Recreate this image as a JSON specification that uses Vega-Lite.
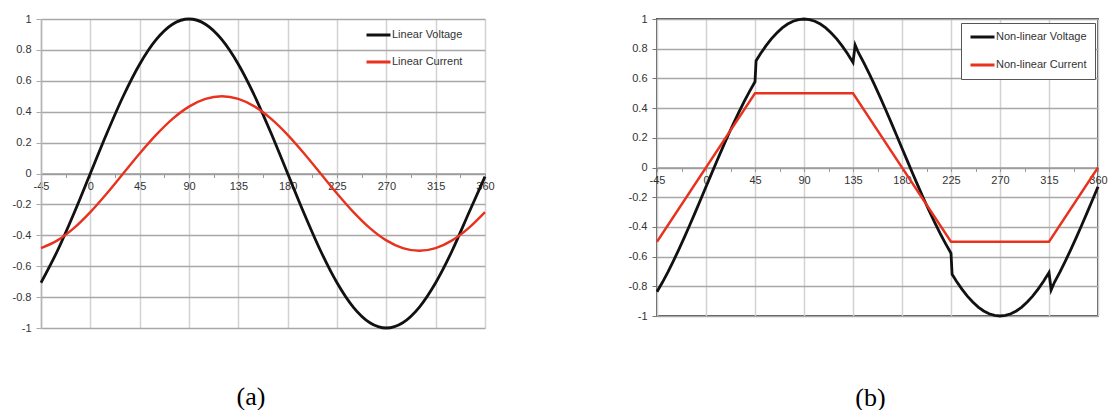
{
  "$schema": "https://vega.github.io/schema/vega-lite/v6.json",
  "background": "white",
  "padding": {"left": 12, "top": 12, "right": 0, "bottom": 0},
  "config": {
    "font": "Liberation Sans",
    "axis": {"labelFont": "Liberation Sans", "labelFontSize": 11, "labelColor": "#333333"},
    "legend": {"labelFont": "Liberation Sans", "labelFontSize": 11, "labelColor": "#333333"}
  },
  "datasets": {
    "linear": [
      {"angle": -45, "value": -0.7071, "series": "Linear Voltage"},
      {"angle": -30, "value": -0.5, "series": "Linear Voltage"},
      {"angle": -15, "value": -0.2588, "series": "Linear Voltage"},
      {"angle": 0, "value": 0, "series": "Linear Voltage"},
      {"angle": 15, "value": 0.2588, "series": "Linear Voltage"},
      {"angle": 30, "value": 0.5, "series": "Linear Voltage"},
      {"angle": 45, "value": 0.7071, "series": "Linear Voltage"},
      {"angle": 60, "value": 0.866, "series": "Linear Voltage"},
      {"angle": 75, "value": 0.9659, "series": "Linear Voltage"},
      {"angle": 90, "value": 1, "series": "Linear Voltage"},
      {"angle": 105, "value": 0.9659, "series": "Linear Voltage"},
      {"angle": 120, "value": 0.866, "series": "Linear Voltage"},
      {"angle": 135, "value": 0.7071, "series": "Linear Voltage"},
      {"angle": 150, "value": 0.5, "series": "Linear Voltage"},
      {"angle": 165, "value": 0.2588, "series": "Linear Voltage"},
      {"angle": 180, "value": 0, "series": "Linear Voltage"},
      {"angle": 195, "value": -0.2588, "series": "Linear Voltage"},
      {"angle": 210, "value": -0.5, "series": "Linear Voltage"},
      {"angle": 225, "value": -0.7071, "series": "Linear Voltage"},
      {"angle": 240, "value": -0.866, "series": "Linear Voltage"},
      {"angle": 255, "value": -0.9659, "series": "Linear Voltage"},
      {"angle": 270, "value": -1, "series": "Linear Voltage"},
      {"angle": 285, "value": -0.9659, "series": "Linear Voltage"},
      {"angle": 300, "value": -0.866, "series": "Linear Voltage"},
      {"angle": 315, "value": -0.7071, "series": "Linear Voltage"},
      {"angle": 330, "value": -0.5, "series": "Linear Voltage"},
      {"angle": 345, "value": -0.2588, "series": "Linear Voltage"},
      {"angle": 360, "value": -0.02, "series": "Linear Voltage"},
      {"angle": -45, "value": -0.483, "series": "Linear Current"},
      {"angle": -30, "value": -0.433, "series": "Linear Current"},
      {"angle": -15, "value": -0.3536, "series": "Linear Current"},
      {"angle": 0, "value": -0.25, "series": "Linear Current"},
      {"angle": 15, "value": -0.1294, "series": "Linear Current"},
      {"angle": 30, "value": 0, "series": "Linear Current"},
      {"angle": 45, "value": 0.1294, "series": "Linear Current"},
      {"angle": 60, "value": 0.25, "series": "Linear Current"},
      {"angle": 75, "value": 0.3536, "series": "Linear Current"},
      {"angle": 90, "value": 0.433, "series": "Linear Current"},
      {"angle": 105, "value": 0.483, "series": "Linear Current"},
      {"angle": 120, "value": 0.5, "series": "Linear Current"},
      {"angle": 135, "value": 0.483, "series": "Linear Current"},
      {"angle": 150, "value": 0.433, "series": "Linear Current"},
      {"angle": 165, "value": 0.3536, "series": "Linear Current"},
      {"angle": 180, "value": 0.25, "series": "Linear Current"},
      {"angle": 195, "value": 0.1294, "series": "Linear Current"},
      {"angle": 210, "value": 0, "series": "Linear Current"},
      {"angle": 225, "value": -0.1294, "series": "Linear Current"},
      {"angle": 240, "value": -0.25, "series": "Linear Current"},
      {"angle": 255, "value": -0.3536, "series": "Linear Current"},
      {"angle": 270, "value": -0.433, "series": "Linear Current"},
      {"angle": 285, "value": -0.483, "series": "Linear Current"},
      {"angle": 300, "value": -0.5, "series": "Linear Current"},
      {"angle": 315, "value": -0.483, "series": "Linear Current"},
      {"angle": 330, "value": -0.433, "series": "Linear Current"},
      {"angle": 345, "value": -0.3536, "series": "Linear Current"},
      {"angle": 360, "value": -0.25, "series": "Linear Current"}
    ],
    "nonlinear": [
      {"angle": -45, "value": -0.837, "series": "Non-linear Voltage"},
      {"angle": -40, "value": -0.773, "series": "Non-linear Voltage"},
      {"angle": -35, "value": -0.704, "series": "Non-linear Voltage"},
      {"angle": -30, "value": -0.63, "series": "Non-linear Voltage"},
      {"angle": -25, "value": -0.553, "series": "Non-linear Voltage"},
      {"angle": -20, "value": -0.472, "series": "Non-linear Voltage"},
      {"angle": -15, "value": -0.389, "series": "Non-linear Voltage"},
      {"angle": -10, "value": -0.304, "series": "Non-linear Voltage"},
      {"angle": -5, "value": -0.217, "series": "Non-linear Voltage"},
      {"angle": 0, "value": -0.13, "series": "Non-linear Voltage"},
      {"angle": 5, "value": -0.043, "series": "Non-linear Voltage"},
      {"angle": 10, "value": 0.044, "series": "Non-linear Voltage"},
      {"angle": 15, "value": 0.129, "series": "Non-linear Voltage"},
      {"angle": 20, "value": 0.212, "series": "Non-linear Voltage"},
      {"angle": 25, "value": 0.293, "series": "Non-linear Voltage"},
      {"angle": 30, "value": 0.37, "series": "Non-linear Voltage"},
      {"angle": 35, "value": 0.444, "series": "Non-linear Voltage"},
      {"angle": 40, "value": 0.513, "series": "Non-linear Voltage"},
      {"angle": 45, "value": 0.577, "series": "Non-linear Voltage"},
      {"angle": 46, "value": 0.719, "series": "Non-linear Voltage"},
      {"angle": 50, "value": 0.766, "series": "Non-linear Voltage"},
      {"angle": 55, "value": 0.819, "series": "Non-linear Voltage"},
      {"angle": 60, "value": 0.866, "series": "Non-linear Voltage"},
      {"angle": 65, "value": 0.906, "series": "Non-linear Voltage"},
      {"angle": 70, "value": 0.94, "series": "Non-linear Voltage"},
      {"angle": 75, "value": 0.966, "series": "Non-linear Voltage"},
      {"angle": 80, "value": 0.985, "series": "Non-linear Voltage"},
      {"angle": 85, "value": 0.996, "series": "Non-linear Voltage"},
      {"angle": 90, "value": 1, "series": "Non-linear Voltage"},
      {"angle": 95, "value": 0.996, "series": "Non-linear Voltage"},
      {"angle": 100, "value": 0.985, "series": "Non-linear Voltage"},
      {"angle": 105, "value": 0.966, "series": "Non-linear Voltage"},
      {"angle": 110, "value": 0.94, "series": "Non-linear Voltage"},
      {"angle": 115, "value": 0.906, "series": "Non-linear Voltage"},
      {"angle": 120, "value": 0.866, "series": "Non-linear Voltage"},
      {"angle": 125, "value": 0.819, "series": "Non-linear Voltage"},
      {"angle": 130, "value": 0.766, "series": "Non-linear Voltage"},
      {"angle": 135, "value": 0.707, "series": "Non-linear Voltage"},
      {"angle": 137, "value": 0.825, "series": "Non-linear Voltage"},
      {"angle": 140, "value": 0.773, "series": "Non-linear Voltage"},
      {"angle": 145, "value": 0.704, "series": "Non-linear Voltage"},
      {"angle": 150, "value": 0.63, "series": "Non-linear Voltage"},
      {"angle": 155, "value": 0.553, "series": "Non-linear Voltage"},
      {"angle": 160, "value": 0.472, "series": "Non-linear Voltage"},
      {"angle": 165, "value": 0.389, "series": "Non-linear Voltage"},
      {"angle": 170, "value": 0.304, "series": "Non-linear Voltage"},
      {"angle": 175, "value": 0.217, "series": "Non-linear Voltage"},
      {"angle": 180, "value": 0.13, "series": "Non-linear Voltage"},
      {"angle": 185, "value": 0.043, "series": "Non-linear Voltage"},
      {"angle": 190, "value": -0.044, "series": "Non-linear Voltage"},
      {"angle": 195, "value": -0.129, "series": "Non-linear Voltage"},
      {"angle": 200, "value": -0.212, "series": "Non-linear Voltage"},
      {"angle": 205, "value": -0.293, "series": "Non-linear Voltage"},
      {"angle": 210, "value": -0.37, "series": "Non-linear Voltage"},
      {"angle": 215, "value": -0.444, "series": "Non-linear Voltage"},
      {"angle": 220, "value": -0.513, "series": "Non-linear Voltage"},
      {"angle": 225, "value": -0.577, "series": "Non-linear Voltage"},
      {"angle": 226, "value": -0.719, "series": "Non-linear Voltage"},
      {"angle": 230, "value": -0.766, "series": "Non-linear Voltage"},
      {"angle": 235, "value": -0.819, "series": "Non-linear Voltage"},
      {"angle": 240, "value": -0.866, "series": "Non-linear Voltage"},
      {"angle": 245, "value": -0.906, "series": "Non-linear Voltage"},
      {"angle": 250, "value": -0.94, "series": "Non-linear Voltage"},
      {"angle": 255, "value": -0.966, "series": "Non-linear Voltage"},
      {"angle": 260, "value": -0.985, "series": "Non-linear Voltage"},
      {"angle": 265, "value": -0.996, "series": "Non-linear Voltage"},
      {"angle": 270, "value": -1, "series": "Non-linear Voltage"},
      {"angle": 275, "value": -0.996, "series": "Non-linear Voltage"},
      {"angle": 280, "value": -0.985, "series": "Non-linear Voltage"},
      {"angle": 285, "value": -0.966, "series": "Non-linear Voltage"},
      {"angle": 290, "value": -0.94, "series": "Non-linear Voltage"},
      {"angle": 295, "value": -0.906, "series": "Non-linear Voltage"},
      {"angle": 300, "value": -0.866, "series": "Non-linear Voltage"},
      {"angle": 305, "value": -0.819, "series": "Non-linear Voltage"},
      {"angle": 310, "value": -0.766, "series": "Non-linear Voltage"},
      {"angle": 315, "value": -0.707, "series": "Non-linear Voltage"},
      {"angle": 317, "value": -0.825, "series": "Non-linear Voltage"},
      {"angle": 320, "value": -0.773, "series": "Non-linear Voltage"},
      {"angle": 325, "value": -0.704, "series": "Non-linear Voltage"},
      {"angle": 330, "value": -0.63, "series": "Non-linear Voltage"},
      {"angle": 335, "value": -0.553, "series": "Non-linear Voltage"},
      {"angle": 340, "value": -0.472, "series": "Non-linear Voltage"},
      {"angle": 345, "value": -0.389, "series": "Non-linear Voltage"},
      {"angle": 350, "value": -0.304, "series": "Non-linear Voltage"},
      {"angle": 355, "value": -0.217, "series": "Non-linear Voltage"},
      {"angle": 360, "value": -0.13, "series": "Non-linear Voltage"},
      {"angle": -45, "value": -0.5, "series": "Non-linear Current"},
      {"angle": 45, "value": 0.5, "series": "Non-linear Current"},
      {"angle": 135, "value": 0.5, "series": "Non-linear Current"},
      {"angle": 225, "value": -0.5, "series": "Non-linear Current"},
      {"angle": 315, "value": -0.5, "series": "Non-linear Current"},
      {"angle": 360, "value": 0, "series": "Non-linear Current"}
    ]
  },
  "hconcat": [
    {
      "width": 444,
      "height": 309,
      "view": {"stroke": null},
      "data": {"name": "linear"},
      "title": {"text": "(a)", "orient": "bottom", "anchor": "middle", "frame": "group", "font": "Liberation Serif", "fontSize": 26, "fontWeight": "normal", "color": "#000000", "offset": 50, "dx": -12},
      "layer": [
        {
          "transform": [{"filter": "datum.series === 'Linear Voltage'"}],
          "mark": {"type": "line", "interpolate": "monotone", "strokeWidth": 2.8},
          "encoding": {
            "x": {"field": "angle", "type": "quantitative", "scale": {"domain": [-45, 360], "nice": false, "zero": false},
              "axis": {"orient": "top", "values": [-45, 0, 45, 90, 135, 180, 225, 270, 315, 360], "grid": true, "gridColor": "#d2d2d2", "gridWidth": 1.5, "labels": false, "ticks": false, "domain": false, "title": null}},
            "y": {"field": "value", "type": "quantitative", "scale": {"domain": [-1, 1], "nice": false},
              "axis": {"orient": "left", "values": [-1, -0.8, -0.6, -0.4, -0.2, 0, 0.2, 0.4, 0.6, 0.8, 1], "grid": true, "gridColor": "#a8a8a8", "gridWidth": 1.6, "domain": true, "domainColor": "#b4b4b4", "domainWidth": 1.5, "ticks": true, "tickColor": "#a8a8a8", "tickSize": 5, "labelPadding": 5, "labelExpr": "toString(datum.value)", "title": null}},
            "color": {"field": "series", "type": "nominal", "scale": {"domain": ["Linear Voltage", "Linear Current"], "range": ["#111111", "#e8321e"]},
              "legend": {"title": null, "orient": "none", "legendX": 324, "legendY": 10, "symbolType": "stroke", "symbolSize": 576, "symbolStrokeWidth": 3, "clipHeight": 12, "labelOffset": 0, "rowPadding": 15, "padding": 0}}
          }
        },
        {
          "transform": [{"filter": "datum.series === 'Linear Current'"}],
          "mark": {"type": "line", "interpolate": "monotone", "strokeWidth": 2.4},
          "encoding": {
            "x": {"field": "angle", "type": "quantitative", "scale": {"domain": [-45, 360], "nice": false, "zero": false}, "axis": null},
            "y": {"field": "value", "type": "quantitative", "scale": {"domain": [-1, 1], "nice": false},
              "axis": {"orient": "left", "values": [-1, -0.8, -0.6, -0.4, -0.2, 0, 0.2, 0.4, 0.6, 0.8, 1], "grid": true, "gridColor": "#a8a8a8", "gridWidth": 1.6, "domain": true, "domainColor": "#b4b4b4", "domainWidth": 1.5, "ticks": true, "tickColor": "#a8a8a8", "tickSize": 5, "labelPadding": 5, "labelExpr": "toString(datum.value)", "title": null}},
            "color": {"field": "series", "type": "nominal", "scale": {"domain": ["Linear Voltage", "Linear Current"], "range": ["#111111", "#e8321e"]},
              "legend": {"title": null, "orient": "none", "legendX": 324, "legendY": 10, "symbolType": "stroke", "symbolSize": 576, "symbolStrokeWidth": 3, "clipHeight": 12, "labelOffset": 0, "rowPadding": 15, "padding": 0}}
          }
        },
        {
          "mark": {"type": "line", "opacity": 0},
          "encoding": {
            "x": {"field": "angle", "type": "quantitative", "scale": {"domain": [-45, 360], "nice": false, "zero": false},
              "axis": {"orient": "bottom", "offset": -154.5, "values": [-45, -22.5, 0, 22.5, 45, 67.5, 90, 112.5, 135, 157.5, 180, 202.5, 225, 247.5, 270, 292.5, 315, 337.5, 360], "grid": false, "domain": true, "domainColor": "#9a9a9a", "domainWidth": 1.5, "ticks": true, "tickColor": "#9a9a9a", "tickSize": 4, "labelPadding": 3, "labelFlush": false, "labelOverlap": false, "labelExpr": "datum.value % 45 === 0 ? toString(datum.value) : ''", "title": null}},
            "y": {"field": "value", "type": "quantitative", "scale": {"domain": [-1, 1], "nice": false},
              "axis": {"orient": "left", "values": [-1, -0.8, -0.6, -0.4, -0.2, 0, 0.2, 0.4, 0.6, 0.8, 1], "grid": true, "gridColor": "#a8a8a8", "gridWidth": 1.6, "domain": true, "domainColor": "#b4b4b4", "domainWidth": 1.5, "ticks": true, "tickColor": "#a8a8a8", "tickSize": 5, "labelPadding": 5, "labelExpr": "toString(datum.value)", "title": null}}
          }
        }
      ],
      "resolve": {"axis": {"x": "independent", "y": "shared"}}
    },
    {
      "width": 441,
      "height": 297,
      "view": {"stroke": "#555555", "strokeWidth": 2},
      "data": {"name": "nonlinear"},
      "title": {"text": "(b)", "orient": "bottom", "anchor": "middle", "frame": "group", "font": "Liberation Serif", "fontSize": 26, "fontWeight": "normal", "color": "#000000", "offset": 63, "dx": -7},
      "layer": [
        {
          "transform": [{"filter": "datum.series === 'Non-linear Voltage'"}],
          "mark": {"type": "line", "interpolate": "linear", "strokeWidth": 2.8},
          "encoding": {
            "x": {"field": "angle", "type": "quantitative", "scale": {"domain": [-45, 360], "nice": false, "zero": false},
              "axis": {"orient": "top", "values": [-45, 0, 45, 90, 135, 180, 225, 270, 315, 360], "grid": true, "gridColor": "#d2d2d2", "gridWidth": 1.5, "labels": false, "ticks": false, "domain": false, "title": null}},
            "y": {"field": "value", "type": "quantitative", "scale": {"domain": [-1, 1], "nice": false},
              "axis": {"orient": "left", "values": [-1, -0.8, -0.6, -0.4, -0.2, 0, 0.2, 0.4, 0.6, 0.8, 1], "grid": true, "gridColor": "#a8a8a8", "gridWidth": 1.6, "domain": false, "ticks": true, "tickColor": "#777777", "tickSize": 5, "labelPadding": 5, "labelExpr": "toString(datum.value)", "title": null}},
            "color": {"field": "series", "type": "nominal", "scale": {"domain": ["Non-linear Voltage", "Non-linear Current"], "range": ["#111111", "#e8321e"]},
              "legend": {"title": null, "orient": "none", "legendX": 304, "legendY": 4, "symbolType": "stroke", "symbolSize": 576, "symbolStrokeWidth": 3, "clipHeight": 12, "labelOffset": 0, "rowPadding": 16, "padding": 8, "strokeColor": "#555555", "fillColor": "white"}}
          }
        },
        {
          "transform": [{"filter": "datum.series === 'Non-linear Current'"}],
          "mark": {"type": "line", "interpolate": "linear", "strokeWidth": 2.4},
          "encoding": {
            "x": {"field": "angle", "type": "quantitative", "scale": {"domain": [-45, 360], "nice": false, "zero": false}, "axis": null},
            "y": {"field": "value", "type": "quantitative", "scale": {"domain": [-1, 1], "nice": false},
              "axis": {"orient": "left", "values": [-1, -0.8, -0.6, -0.4, -0.2, 0, 0.2, 0.4, 0.6, 0.8, 1], "grid": true, "gridColor": "#a8a8a8", "gridWidth": 1.6, "domain": false, "ticks": true, "tickColor": "#777777", "tickSize": 5, "labelPadding": 5, "labelExpr": "toString(datum.value)", "title": null}},
            "color": {"field": "series", "type": "nominal", "scale": {"domain": ["Non-linear Voltage", "Non-linear Current"], "range": ["#111111", "#e8321e"]},
              "legend": {"title": null, "orient": "none", "legendX": 304, "legendY": 4, "symbolType": "stroke", "symbolSize": 576, "symbolStrokeWidth": 3, "clipHeight": 12, "labelOffset": 0, "rowPadding": 16, "padding": 8, "strokeColor": "#555555", "fillColor": "white"}}
          }
        },
        {
          "mark": {"type": "line", "opacity": 0},
          "encoding": {
            "x": {"field": "angle", "type": "quantitative", "scale": {"domain": [-45, 360], "nice": false, "zero": false},
              "axis": {"orient": "bottom", "offset": -148.5, "values": [-45, -22.5, 0, 22.5, 45, 67.5, 90, 112.5, 135, 157.5, 180, 202.5, 225, 247.5, 270, 292.5, 315, 337.5, 360], "grid": false, "domain": true, "domainColor": "#9a9a9a", "domainWidth": 1.5, "ticks": true, "tickColor": "#9a9a9a", "tickSize": 4, "labelPadding": 3, "labelFlush": false, "labelOverlap": false, "labelExpr": "datum.value % 45 === 0 ? toString(datum.value) : ''", "title": null}},
            "y": {"field": "value", "type": "quantitative", "scale": {"domain": [-1, 1], "nice": false},
              "axis": {"orient": "left", "values": [-1, -0.8, -0.6, -0.4, -0.2, 0, 0.2, 0.4, 0.6, 0.8, 1], "grid": true, "gridColor": "#a8a8a8", "gridWidth": 1.6, "domain": false, "ticks": true, "tickColor": "#777777", "tickSize": 5, "labelPadding": 5, "labelExpr": "toString(datum.value)", "title": null}}
          }
        }
      ],
      "resolve": {"axis": {"x": "independent", "y": "shared"}}
    }
  ],
  "spacing": 172,
  "bounds": "flush",
  "resolve": {"scale": {"color": "independent"}, "legend": {"color": "independent"}}
}
